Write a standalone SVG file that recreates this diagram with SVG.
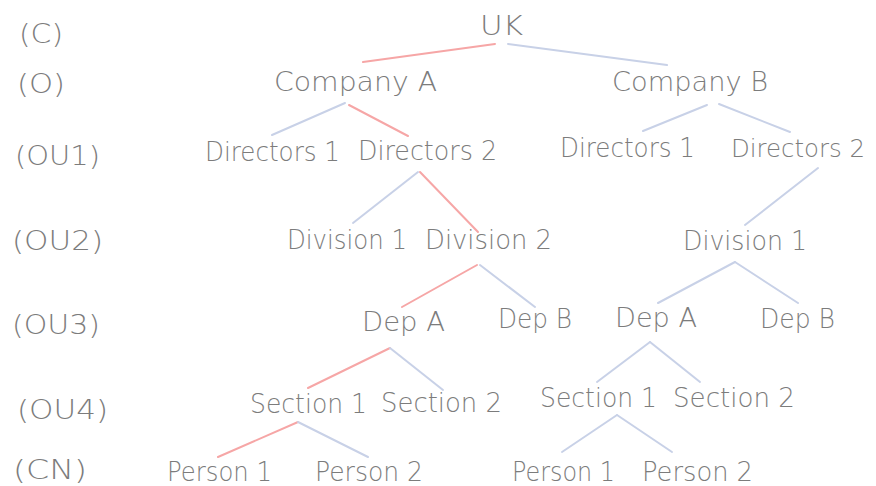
<svg xmlns="http://www.w3.org/2000/svg" width="876" height="486" viewBox="0 0 876 486">
<style>
text{font-family:"DejaVu Sans","Liberation Sans",sans-serif;font-size:27px;font-weight:200;fill:#7c7c7c}
text.s{font-size:24.5px}
.r{stroke:#f6a6a6;stroke-width:2;fill:none;stroke-linecap:round}
.b{stroke:#c8d1e7;stroke-width:2;fill:none;stroke-linecap:round}
</style>
<rect width="876" height="486" fill="#ffffff"/>
<g id="connectors">
<line class="r" x1="495" y1="44" x2="363" y2="62"/>
<line class="b" x1="508" y1="44" x2="667" y2="65"/>
<line class="b" x1="345" y1="103" x2="272" y2="135"/>
<line class="r" x1="349" y1="105" x2="408" y2="136"/>
<line class="b" x1="707" y1="105" x2="643" y2="131"/>
<line class="b" x1="719" y1="104" x2="790" y2="132"/>
<line class="b" x1="418" y1="172" x2="353" y2="223"/>
<line class="r" x1="420" y1="172" x2="478" y2="232"/>
<line class="b" x1="818" y1="168" x2="745" y2="225"/>
<line class="r" x1="477" y1="265" x2="402" y2="307"/>
<line class="b" x1="480" y1="265" x2="535" y2="307"/>
<line class="b" x1="735" y1="262" x2="658" y2="303"/>
<line class="b" x1="735" y1="262" x2="798" y2="303"/>
<line class="r" x1="390" y1="348" x2="308" y2="388"/>
<line class="b" x1="390" y1="348" x2="443" y2="390"/>
<line class="b" x1="650" y1="342" x2="597" y2="382"/>
<line class="b" x1="650" y1="342" x2="700" y2="382"/>
<line class="r" x1="298" y1="422" x2="218" y2="457"/>
<line class="b" x1="298" y1="422" x2="368" y2="457"/>
<line class="b" x1="617" y1="415" x2="562" y2="452"/>
<line class="b" x1="617" y1="415" x2="672" y2="452"/>
</g>
<g id="levels">
<text x="19" y="43" textLength="44" lengthAdjust="spacingAndGlyphs">(C)</text>
<text x="17" y="93" textLength="48" lengthAdjust="spacingAndGlyphs">(O)</text>
<text x="15" y="165" textLength="85" lengthAdjust="spacingAndGlyphs">(OU1)</text>
<text x="12" y="250" textLength="91" lengthAdjust="spacingAndGlyphs">(OU2)</text>
<text x="12" y="334" textLength="88" lengthAdjust="spacingAndGlyphs">(OU3)</text>
<text x="17" y="419" textLength="91" lengthAdjust="spacingAndGlyphs">(OU4)</text>
<text x="13" y="479" textLength="74" lengthAdjust="spacingAndGlyphs">(CN)</text>
</g>
<g id="uk"><text x="480" y="35" textLength="43" lengthAdjust="spacingAndGlyphs">UK</text></g>
<g id="companyA"><text x="274" y="91" textLength="163" lengthAdjust="spacingAndGlyphs">Company A</text></g>
<g id="companyB"><text x="612" y="91" textLength="156" lengthAdjust="spacingAndGlyphs">Company B</text></g>
<g id="directors1A"><text x="205" y="161" textLength="135" lengthAdjust="spacingAndGlyphs">Directors 1</text></g>
<g id="directors2A"><text x="358" y="160" textLength="139" lengthAdjust="spacingAndGlyphs">Directors 2</text></g>
<g id="directors1B"><text x="560" y="157" textLength="135" lengthAdjust="spacingAndGlyphs">Directors 1</text></g>
<g id="directors2B"><text class="s" x="731" y="157" textLength="134" lengthAdjust="spacingAndGlyphs">Directors 2</text></g>
<g id="division1A"><text x="287" y="249" textLength="120" lengthAdjust="spacingAndGlyphs">Division 1</text></g>
<g id="division2A"><text x="425" y="249" textLength="127" lengthAdjust="spacingAndGlyphs">Division 2</text></g>
<g id="division1B"><text x="683" y="250" textLength="124" lengthAdjust="spacingAndGlyphs">Division 1</text></g>
<g id="depAA"><text x="362" y="331" textLength="83" lengthAdjust="spacingAndGlyphs">Dep A</text></g>
<g id="depBA"><text x="498" y="328" textLength="74" lengthAdjust="spacingAndGlyphs">Dep B</text></g>
<g id="depAB"><text x="615" y="327" textLength="82" lengthAdjust="spacingAndGlyphs">Dep A</text></g>
<g id="depBB"><text x="760" y="328" textLength="75" lengthAdjust="spacingAndGlyphs">Dep B</text></g>
<g id="section1A"><text x="250" y="413" textLength="117" lengthAdjust="spacingAndGlyphs">Section 1</text></g>
<g id="section2A"><text x="381" y="412" textLength="121" lengthAdjust="spacingAndGlyphs">Section 2</text></g>
<g id="section1B"><text x="540" y="407" textLength="117" lengthAdjust="spacingAndGlyphs">Section 1</text></g>
<g id="section2B"><text x="673" y="407" textLength="122" lengthAdjust="spacingAndGlyphs">Section 2</text></g>
<g id="person1A"><text x="167" y="481" textLength="105" lengthAdjust="spacingAndGlyphs">Person 1</text></g>
<g id="person2A"><text x="315" y="481" textLength="108" lengthAdjust="spacingAndGlyphs">Person 2</text></g>
<g id="person1B"><text x="512" y="481" textLength="103" lengthAdjust="spacingAndGlyphs">Person 1</text></g>
<g id="person2B"><text x="642" y="481" textLength="111" lengthAdjust="spacingAndGlyphs">Person 2</text></g>
</svg>
